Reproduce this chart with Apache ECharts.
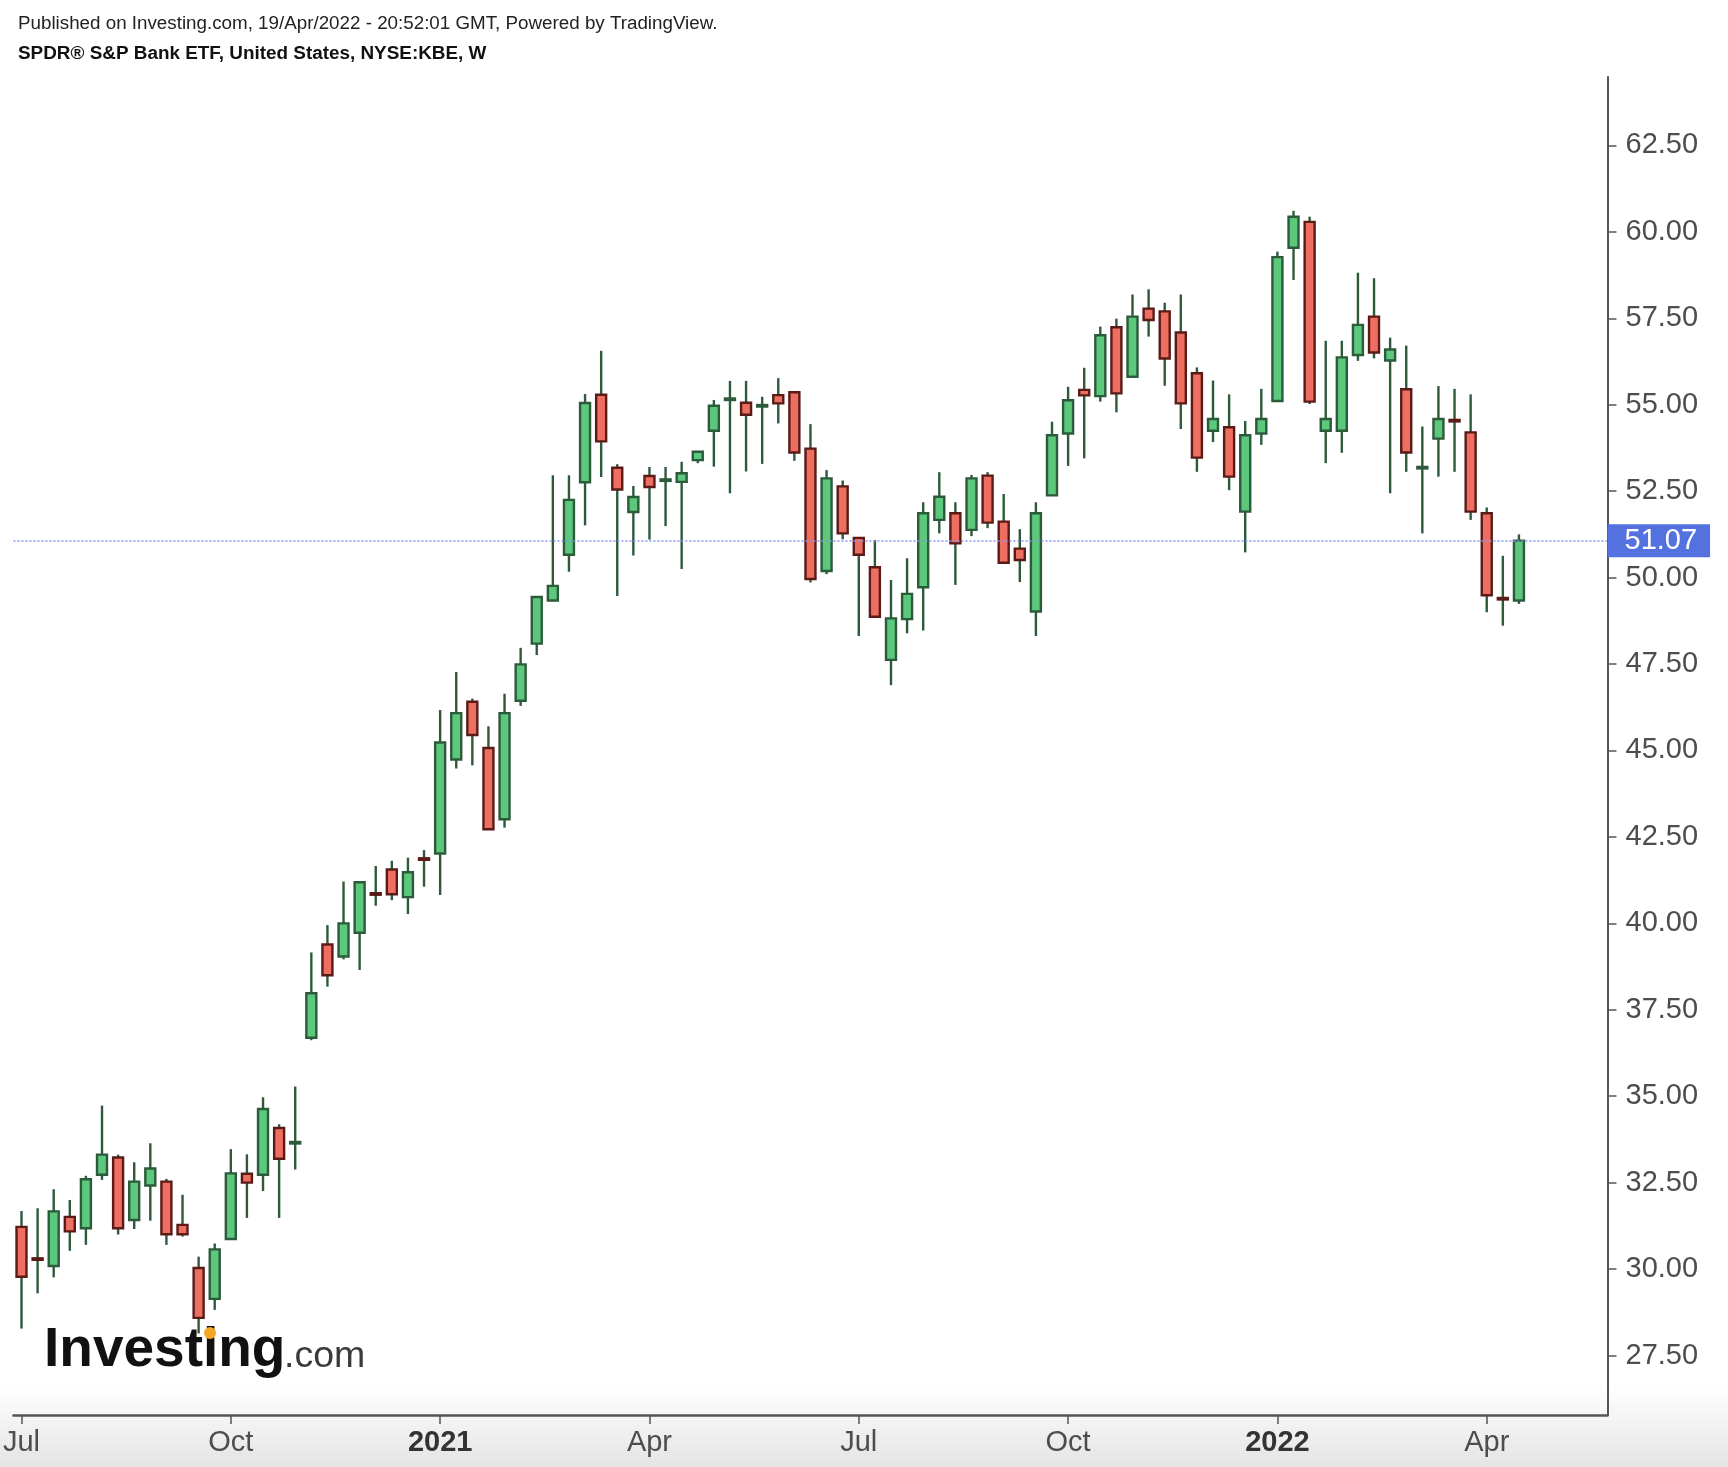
<!DOCTYPE html>
<html><head><meta charset="utf-8">
<script src="https://cdn.jsdelivr.net/npm/echarts@6/dist/echarts.min.js"></script>
<style>html,body{margin:0;padding:0;background:#fff}#c{width:1728px;height:1467px}</style>
</head><body><div id="c"></div>
<script>
// Weekly bars (week start, Monday)
const dates = [
'2020-07-06','2020-07-13','2020-07-20','2020-07-27','2020-08-03','2020-08-10','2020-08-17','2020-08-24','2020-08-31',
'2020-09-07','2020-09-14','2020-09-21','2020-09-28','2020-10-05','2020-10-12','2020-10-19','2020-10-26',
'2020-11-02','2020-11-09','2020-11-16','2020-11-23','2020-11-30','2020-12-07','2020-12-14','2020-12-21','2020-12-28',
'2021-01-04','2021-01-11','2021-01-18','2021-01-25','2021-02-01','2021-02-08','2021-02-15','2021-02-22',
'2021-03-01','2021-03-08','2021-03-15','2021-03-22','2021-03-29','2021-04-05','2021-04-12','2021-04-19','2021-04-26',
'2021-05-03','2021-05-10','2021-05-17','2021-05-24','2021-05-31','2021-06-07','2021-06-14','2021-06-21','2021-06-28',
'2021-07-05','2021-07-12','2021-07-19','2021-07-26','2021-08-02','2021-08-09','2021-08-16','2021-08-23','2021-08-30',
'2021-09-06','2021-09-13','2021-09-20','2021-09-27','2021-10-04','2021-10-11','2021-10-18','2021-10-25',
'2021-11-01','2021-11-08','2021-11-15','2021-11-22','2021-11-29','2021-12-06','2021-12-13','2021-12-20','2021-12-27',
'2022-01-03','2022-01-10','2022-01-17','2022-01-24','2022-01-31','2022-02-07','2022-02-14','2022-02-21','2022-02-28',
'2022-03-07','2022-03-14','2022-03-21','2022-03-28','2022-04-04','2022-04-11','2022-04-18'
];
// empty future weeks (right margin of the chart)
const futureDates = ['2022-04-25','2022-05-02','2022-05-09','2022-05-16','2022-05-23'];

const opens = [
31.22,30.30,30.09,31.51,31.18,32.73,33.23,31.42,32.42,32.53,31.28,30.03,29.14,30.87,32.76,32.73,34.08,33.64,
36.69,39.39,39.04,39.73,40.86,41.56,40.76,41.87,42.02,44.74,46.41,45.07,43.01,46.44,48.09,49.34,50.66,52.76,
55.29,53.18,51.90,52.94,52.81,52.77,53.40,54.25,55.15,55.06,54.96,55.28,55.36,53.73,50.19,52.64,51.15,50.30,
47.62,48.80,49.72,51.67,51.86,51.38,52.95,51.62,50.84,49.02,52.38,54.17,55.43,55.25,57.24,55.81,57.78,57.70,
57.09,55.91,54.25,54.35,51.91,54.17,55.11,59.54,60.29,54.25,54.25,56.44,57.55,56.28,55.45,53.17,54.02,54.55,
54.20,51.86,49.40,49.34
];
const closes = [
29.78,30.28,31.67,31.09,32.60,33.31,31.18,32.53,32.91,31.01,31.01,28.59,30.57,32.77,32.50,34.63,33.19,33.67,
37.98,38.50,40.00,41.19,40.84,40.84,41.48,41.85,45.23,46.08,45.45,42.72,46.08,47.49,49.44,49.76,52.25,55.05,
53.94,52.55,52.33,52.62,52.83,53.02,53.64,54.97,55.17,54.71,54.98,55.04,53.62,49.96,52.87,51.28,50.66,48.87,
48.82,49.53,51.86,52.34,50.99,52.87,51.59,50.43,50.51,51.86,54.12,55.13,55.27,57.01,55.33,57.55,57.45,56.34,
55.04,53.47,54.59,52.92,54.12,54.59,59.27,60.44,55.09,54.59,56.37,57.31,56.51,56.60,53.62,53.19,54.59,54.53,
51.91,49.49,49.38,51.07
];
const lows = [
28.28,29.30,29.76,30.53,30.70,32.58,31.00,31.16,31.40,30.70,30.94,28.14,28.82,30.85,31.48,32.26,31.48,32.88,
36.62,38.17,38.96,38.65,40.51,40.67,40.27,41.06,40.82,44.48,44.57,42.70,42.77,46.29,47.76,49.32,50.17,51.51,
52.91,49.47,50.64,51.10,51.49,50.25,53.31,53.21,52.44,53.07,53.29,54.46,53.38,49.86,50.10,51.11,48.31,48.86,
46.89,48.39,48.47,51.28,49.79,51.20,51.43,50.42,49.87,48.31,52.37,53.23,53.45,55.09,54.78,55.80,56.97,55.55,
54.30,53.06,53.92,52.53,50.73,53.84,55.10,58.61,55.02,53.31,53.61,56.27,56.34,52.44,53.06,51.28,52.92,53.06,
51.67,49.00,48.61,49.24
];
const highs = [
31.68,31.76,32.31,32.00,32.70,34.73,33.31,33.09,33.64,32.61,32.15,30.36,30.74,33.47,33.32,34.97,34.19,35.28,
39.16,39.95,41.21,41.21,41.66,41.81,41.90,42.12,46.17,47.27,46.50,45.70,46.64,47.97,49.46,52.96,52.96,55.31,
56.56,53.28,52.65,53.20,53.20,53.35,53.66,55.14,55.69,55.69,55.23,55.77,55.37,54.44,53.11,52.81,51.16,51.09,
49.93,50.56,52.18,53.05,52.18,52.97,53.05,52.42,51.40,52.18,54.51,55.52,56.07,57.26,57.49,58.19,58.34,57.95,
58.19,56.08,55.70,55.30,54.53,55.46,59.43,60.61,60.44,56.85,56.85,58.82,58.66,56.94,56.71,54.37,55.54,55.46,
55.30,52.03,50.63,51.25
];

const quarterTicks  = ['2020-07-06','2020-10-05','2021-01-04','2021-04-05','2021-07-05','2021-10-04','2022-01-03','2022-04-04'];
const quarterLabels = ['Jul','Oct','2021','Apr','Jul','Oct','2022','Apr'];
const yTicks = [27.5,30,32.5,35,37.5,40,42.5,45,47.5,50,52.5,55,57.5,60,62.5];
const lastPrice = 51.07;

const FONT = '"Liberation Sans", Arial, Helvetica, sans-serif';
const UP_FILL = '#5cc87b', UP_BORDER = '#2c5b3b';
const DN_FILL = '#ee6f62', DN_BORDER = '#5a1b17';
const WICK = '#2e5a3c';

const allDates = dates.concat(futureDates);
const candleData = dates.map((d, i) => [i, opens[i], closes[i], lows[i], highs[i]]);
const labelMap = {};
quarterTicks.forEach((d, i) => { labelMap[d] = quarterLabels[i]; });

function renderCandle(params, api) {
  const i = api.value(0);
  const o = api.value(1), c = api.value(2), l = api.value(3), h = api.value(4);
  const pO = api.coord([i, o]), pC = api.coord([i, c]);
  const pH = api.coord([i, h]), pL = api.coord([i, l]);
  const band = api.size([1, 0])[0];
  const w = band * 0.62;
  const up = c >= o;
  let top = Math.min(pO[1], pC[1]);
  let hgt = Math.abs(pO[1] - pC[1]);
  const doji = hgt < 1.5;
  if (doji) { top = (pO[1] + pC[1]) / 2 - 0.75; hgt = 1.5; }
  const border = up ? UP_BORDER : DN_BORDER;
  return {
    type: 'group',
    children: [
      { type: 'line', shape: { x1: pH[0], y1: pH[1], x2: pL[0], y2: pL[1] },
        style: { stroke: WICK, lineWidth: 2.4 } },
      { type: 'rect', shape: { x: pO[0] - w / 2, y: top, width: w, height: hgt },
        style: { fill: doji ? border : (up ? UP_FILL : DN_FILL), stroke: border, lineWidth: 2.4 } }
    ]
  };
}

const chart = echarts.init(document.getElementById('c'), null, { renderer: 'canvas' });
chart.setOption({
  backgroundColor: '#ffffff',
  animation: false,
  title: [
    { text: 'Published on Investing.com, 19/Apr/2022 - 20:52:01 GMT, Powered by TradingView.',
      left: 13, top: 9, textStyle: { fontFamily: FONT, fontSize: 18.8, fontWeight: 'normal', color: '#222' } },
    { text: 'SPDR® S&P Bank ETF, United States, NYSE:KBE, W',
      left: 13, top: 39.5, textStyle: { fontFamily: FONT, fontSize: 18.9, fontWeight: 'bold', color: '#111' } }
  ],
  graphic: [
    { type: 'rect', left: 0, top: 1385, z: -10, silent: true,
      shape: { width: 1728, height: 82 },
      style: { fill: new echarts.graphic.LinearGradient(0, 0, 0, 1, [
        { offset: 0, color: '#ffffff' }, { offset: 1, color: '#e4e4e4' }]) } },
    { type: 'text', x: 44, y: 1351, z: 5, silent: true,
      style: { text: 'Investing', font: 'bold 55px ' + FONT, fill: '#111', verticalAlign: 'middle' } },
    { type: 'text', x: 284, y: 1357, z: 5, silent: true,
      style: { text: '.com', font: '37.5px ' + FONT, fill: '#3a3a3a', verticalAlign: 'middle' } },
    { type: 'circle', x: 210, y: 1333, z: 6, silent: true,
      shape: { r: 6 }, style: { fill: '#f5a623' } }
  ],
  grid: { left: 6.3, right: 120.5, top: 77, bottom: 52, containLabel: false },
  xAxis: {
    type: 'category',
    data: allDates,
    boundaryGap: true,
    axisLine: { show: true, lineStyle: { color: '#555', width: 2.5 } },
    axisTick: { show: true, alignWithLabel: true, length: 9,
      interval: (idx, val) => labelMap[val] !== undefined,
      lineStyle: { color: '#555', width: 1.5 } },
    axisLabel: {
      interval: (idx, val) => labelMap[val] !== undefined,
      formatter: (val) => {
        const t = labelMap[val] || '';
        return /^\d{4}$/.test(t) ? '{b|' + t + '}' : t;
      },
      fontFamily: FONT, fontSize: 29, color: '#4d4d4d', margin: 13,
      rich: { b: { fontFamily: FONT, fontSize: 29, fontWeight: 'bold', color: '#333' } }
    },
    splitLine: { show: false }
  },
  yAxis: {
    type: 'value',
    position: 'right',
    min: 25.78, max: 64.48,
    axisLine: { show: true, lineStyle: { color: '#555', width: 2 } },
    axisTick: { show: true, length: 9, customValues: yTicks, lineStyle: { color: '#555', width: 1.5 } },
    axisLabel: { customValues: yTicks, formatter: (v) => v.toFixed(2),
      fontFamily: FONT, fontSize: 29, color: '#4d4d4d', margin: 18 },
    splitLine: { show: false }
  },
  series: [
    {
      type: 'custom',
      name: 'KBE',
      renderItem: renderCandle,
      encode: { x: 0, y: [1, 2, 3, 4] },
      data: candleData,
      clip: true,
      z: 3
    },
    {
      type: 'line',
      name: 'last',
      data: [],
      silent: true,
      markLine: {
        silent: true,
        symbol: ['none', 'none'],
        data: [{ yAxis: lastPrice }],
        lineStyle: { type: [2, 2], color: '#8597ee', width: 1.5 },
        label: {
          show: true, position: 'end', distance: 0,
          formatter: lastPrice.toFixed(2),
          backgroundColor: '#5471e0', color: '#ffffff',
          fontFamily: FONT, fontSize: 29, padding: [2, 13, 2, 17]
        }
      }
    }
  ]
});
</script>
</body></html>
